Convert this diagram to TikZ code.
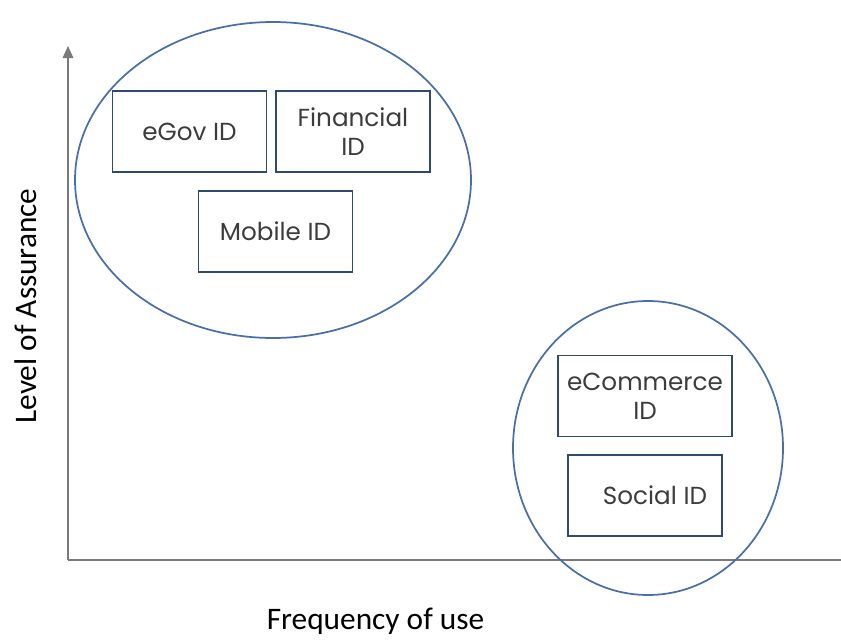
\documentclass[tikz,border=0pt]{standalone}
\usepackage{fontspec}
\setmainfont{Carlito}
\newfontfamily\boxfont{Poppins}
\usetikzlibrary{arrows.meta}
\definecolor{ringblue}{HTML}{4A6FA8}
\definecolor{boxblue}{HTML}{2E4A6E}
\definecolor{axisgray}{HTML}{7A7A7A}
\definecolor{labelgray}{HTML}{3C3C3C}
\tikzset{
  idbox/.style={draw=boxblue, line width=1.2pt, minimum width=115.5pt, minimum height=60.75pt,
    align=center, font=\boxfont\fontsize{18.5}{22}\selectfont, text=labelgray, inner sep=0pt},
  ring/.style={draw=ringblue, line width=1.3pt},
  axis/.style={draw=axisgray, line width=0.9pt},
  axislabel/.style={font=\fontsize{23.5}{27}\selectfont, text=black, inner sep=0pt}
}
\begin{document}
\begin{tikzpicture}[x=0.75pt,y=-0.75pt]
  \useasboundingbox (0,0) rectangle (841,639);
  % axes
  \coordinate (origin) at (68,560);
  \coordinate (ytip) at (68,46);
  \coordinate (xend) at (841,560);
  \draw[axis, -{Triangle[length=9pt,width=8pt]}] (origin) -- (ytip);
  \draw[axis] (origin) -- (xend);
  % groups
  \draw[ring] (273,180) ellipse [x radius=198, y radius=158];
  \draw[ring] (648,448) ellipse [x radius=135, y radius=147];
  % identity boxes
  \node[idbox] (egov) at (189.5,131.5) {eGov ID};
  \node[idbox] (fin) at (353,131.5) {Financial\\ID};
  \node[idbox] (mobile) at (275.5,231.5) {Mobile ID};
  \node[idbox, minimum width=130.5pt] (ecom) at (645,396) {eCommerce\\ID};
  \node[idbox] (social) at (645,495.5) {\hspace*{15pt}Social ID};
  % axis labels
  \node[axislabel] (xlab) at (375.5,621) {Frequency of use};
  \node[axislabel, rotate=90] (ylab) at (26,306) {Level of Assurance};
\end{tikzpicture}
\end{document}
